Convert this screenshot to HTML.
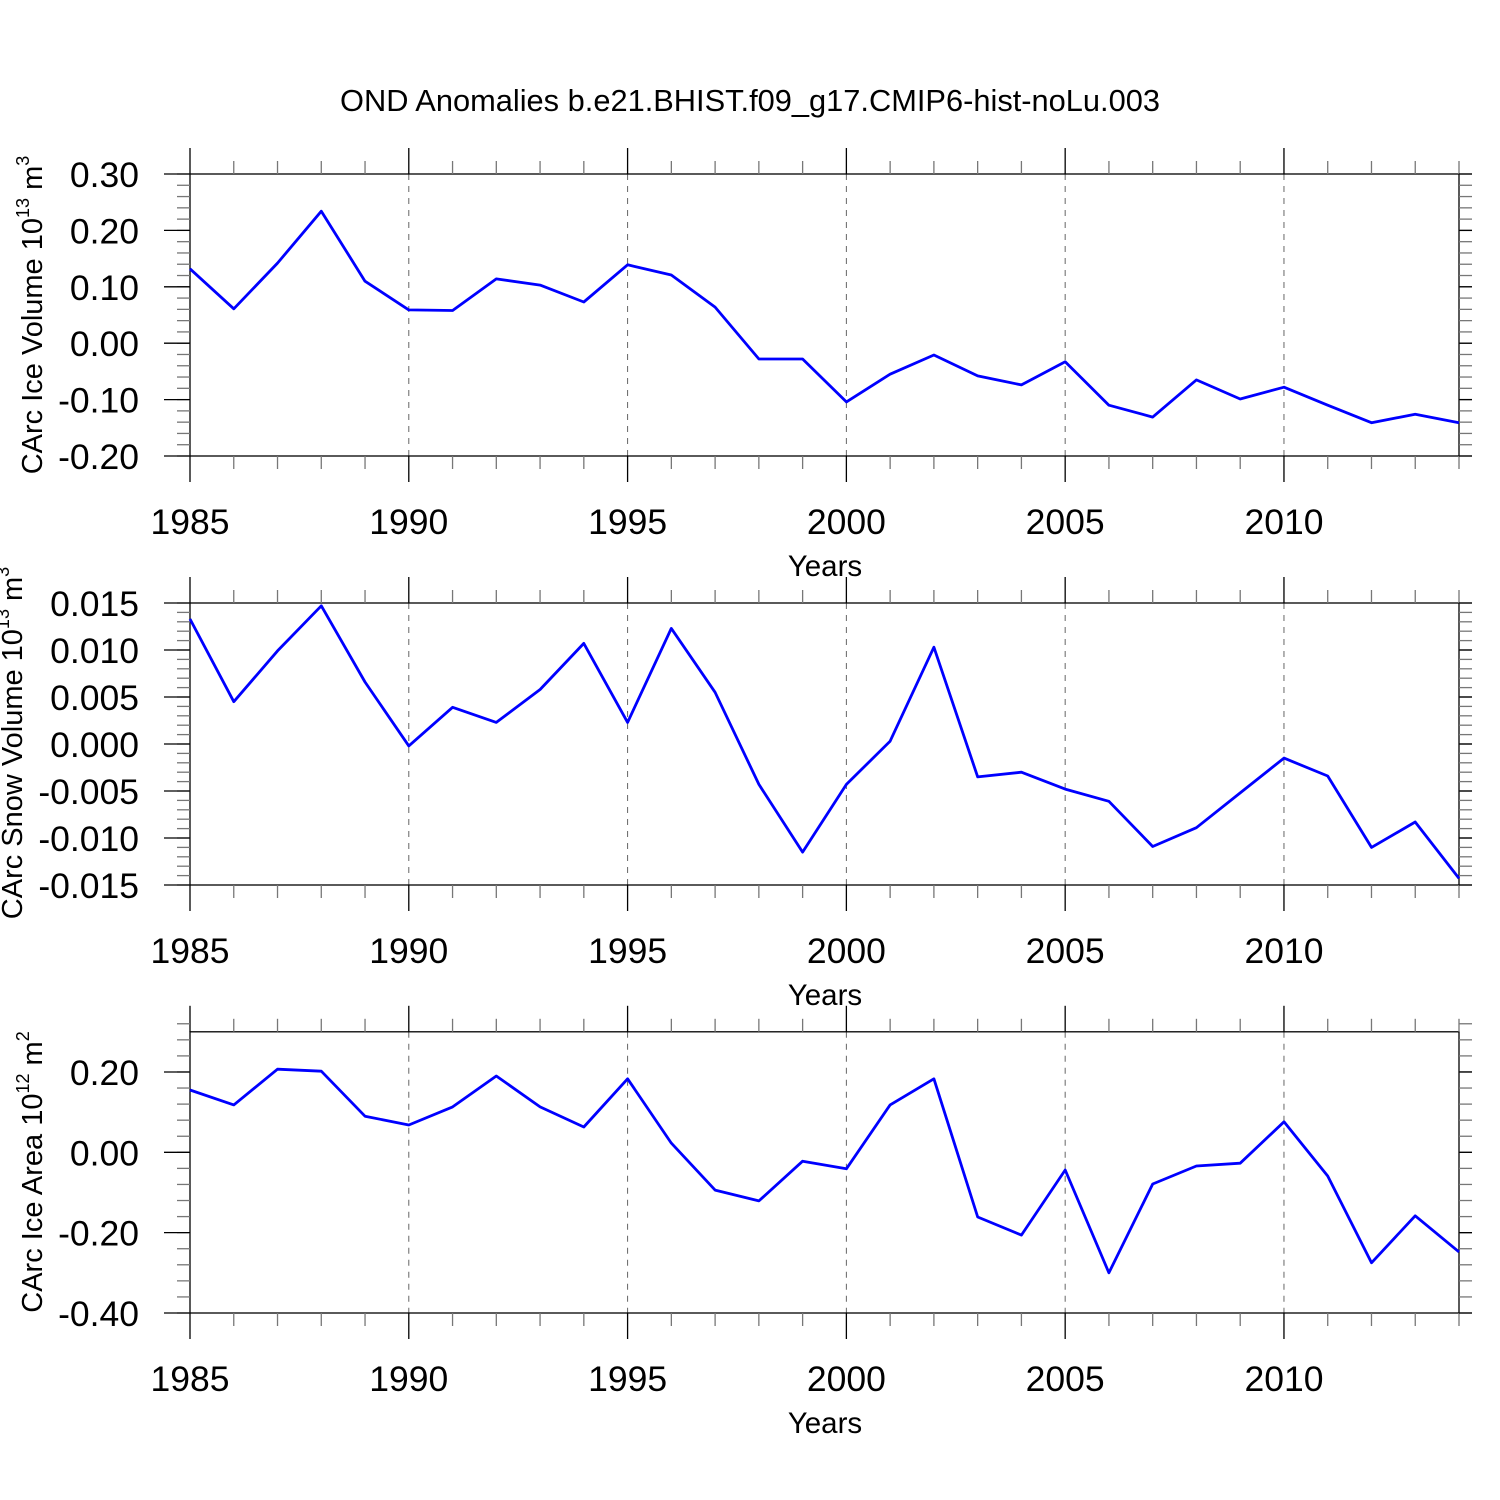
<!DOCTYPE html>
<html><head><meta charset="utf-8"><style>
html,body{margin:0;padding:0;background:#fff}
svg{display:block;font-family:"Liberation Sans",sans-serif}
</style></head><body>
<svg id="chart" width="1500" height="1500" viewBox="0 0 1500 1500" xmlns="http://www.w3.org/2000/svg">
<text x="750" y="111" font-size="30.8" text-anchor="middle">OND Anomalies b.e21.BHIST.f09_g17.CMIP6-hist-noLu.003</text>
</svg>
<script>
const years = [1985,1986,1987,1988,1989,1990,1991,1992,1993,1994,1995,1996,1997,1998,1999,2000,2001,2002,2003,2004,2005,2006,2007,2008,2009,2010,2011,2012,2013,2014];
const iceVolume = [0.132,0.061,0.142,0.234,0.110,0.059,0.058,0.114,0.103,0.073,0.139,0.121,0.064,-0.028,-0.028,-0.104,-0.055,-0.021,-0.058,-0.074,-0.033,-0.110,-0.131,-0.065,-0.099,-0.078,-0.110,-0.141,-0.126,-0.141];
const snowVolume = [0.0133,0.0045,0.0099,0.0147,0.0066,-0.0002,0.0039,0.0023,0.0058,0.0107,0.0023,0.0123,0.0055,-0.0043,-0.0115,-0.0043,0.0003,0.0103,-0.0035,-0.0030,-0.0048,-0.0061,-0.0109,-0.0089,-0.0052,-0.0015,-0.0034,-0.0110,-0.0083,-0.0143];
const iceArea = [0.155,0.118,0.207,0.202,0.090,0.068,0.113,0.190,0.113,0.063,0.183,0.023,-0.094,-0.121,-0.022,-0.041,0.118,0.183,-0.161,-0.206,-0.044,-0.300,-0.079,-0.034,-0.027,0.076,-0.059,-0.275,-0.158,-0.248];
const xTickLabels = ["1985","1990","1995","2000","2005","2010"];
const yTicks1 = [0.30,0.20,0.10,0.00,-0.10,-0.20];
const yTicks2 = [0.015,0.010,0.005,0.000,-0.005,-0.010,-0.015];
const yTicks3 = [0.20,0.00,-0.20,-0.40];

const NS="http://www.w3.org/2000/svg";
const svg=document.getElementById('chart');
function mk(tag,attrs,parent){const e=document.createElementNS(NS,tag);for(const k in attrs)e.setAttribute(k,attrs[k]);(parent||svg).appendChild(e);return e;}
const X0=190,X1=1459;
function xs(yr){return X0+(yr-1985)*(X1-X0)/29;}

const panels=[
 {name:'ice-volume',top:174,bot:456,ymax:0.30,ymin:-0.20,ticks:yTicks1,dec:2,minor:0.02,data:iceVolume,title:'CArc Ice Volume 10',sup:'13',unit:'m',usup:'3',ty:315,tx:42},
 {name:'snow-volume',top:603,bot:885,ymax:0.015,ymin:-0.015,ticks:yTicks2,dec:3,minor:0.001,data:snowVolume,title:'CArc Snow Volume 10',sup:'13',unit:'m',usup:'3',ty:743,tx:22},
 {name:'ice-area',top:1031.8,bot:1313,ymax:0.30,ymin:-0.40,ticks:yTicks3,dec:2,minor:0.04,data:iceArea,title:'CArc Ice Area 10',sup:'12',unit:'m',usup:'2',ty:1172,tx:42}
];
panels.forEach(p=>{
 const g=mk('g',{});
 
 
 const ys=v=>p.top+(p.ymax-v)*(p.bot-p.top)/(p.ymax-p.ymin);
 for(let yr=1990;yr<=2010;yr+=5){
  const l=mk('line',{x1:xs(yr),x2:xs(yr),y1:p.top,y2:p.bot,stroke:'#666','stroke-width':1,'stroke-dasharray':'6,6'},g);
  
  
 }
 const fr=mk('rect',{x:X0,y:p.top,width:X1-X0,height:p.bot-p.top,fill:'none',stroke:'#000','stroke-width':1.3},g);
 
 
 years.forEach(yr=>{
  const major=(yr-1985)%5===0;const len=major?26:13;const x=xs(yr);
  mk('line',{x1:x,x2:x,y1:p.top-len,y2:p.top,stroke:major?'#000':'#777','stroke-width':1.3},g);
  mk('line',{x1:x,x2:x,y1:p.bot,y2:p.bot+len,stroke:major?'#000':'#777','stroke-width':1.3},g);
 });
 xTickLabels.forEach(s=>{
  const t=mk('text',{x:xs(+s),y:p.bot+78,'font-size':35.5,'text-anchor':'middle'},g);t.textContent=s;
  
  
 });
 const xt=mk('text',{x:825,y:p.bot+120,'font-size':29.5,'text-anchor':'middle'},g);xt.textContent='Years';
 
 
 const n=Math.round((p.ymax-p.ymin)/p.minor);
 for(let i=0;i<=n;i++){const y=ys(p.ymin+i*p.minor);
  mk('line',{x1:X0-13,x2:X0,y1:y,y2:y,stroke:'#777','stroke-width':1.3},g);
  mk('line',{x1:X1,x2:X1+13,y1:y,y2:y,stroke:'#777','stroke-width':1.3},g);}
 p.ticks.forEach(v=>{const y=ys(v);
  mk('line',{x1:X0-26,x2:X0,y1:y,y2:y,stroke:'#000','stroke-width':1.3},g);
  mk('line',{x1:X1,x2:X1+13,y1:y,y2:y,stroke:'#000','stroke-width':1.3},g);
  const t=mk('text',{x:X0-51,y:y+13,'font-size':35.5,'text-anchor':'end'},g);t.textContent=v.toFixed(p.dec);
  
  
 });
 const yt=mk('text',{x:0,y:0,'font-size':29,'text-anchor':'middle',transform:`translate(${p.tx},${p.ty}) rotate(-90)`},g);
 
 
 const a=mk('tspan',{},yt);a.textContent=p.title;
 const b=mk('tspan',{'font-size':18,dy:-13},yt);b.textContent=p.sup;
 const c=mk('tspan',{dy:13},yt);c.textContent=' '+p.unit;
 const d=mk('tspan',{'font-size':18,dy:-13},yt);d.textContent=p.usup;
 const pts=p.data.map((v,i)=>xs(years[i]).toFixed(1)+','+ys(v).toFixed(1)).join(' ');
 const pl=mk('polyline',{points:pts,fill:'none',stroke:'#0000ff','stroke-width':2.8,'stroke-linejoin':'round'},g);
 
 
});
</script>
</body></html>
